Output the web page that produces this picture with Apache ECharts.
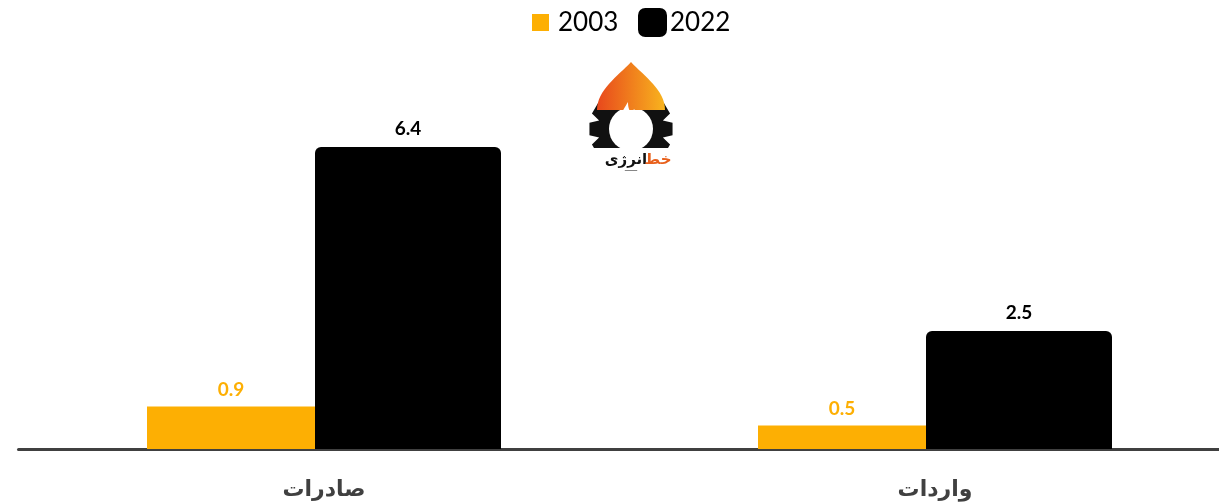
<!DOCTYPE html>
<html><head><meta charset="utf-8">
<script src="https://cdn.jsdelivr.net/npm/echarts@6/dist/echarts.min.js"></script>
<style>html,body{margin:0;padding:0;background:#fff}#c{width:1219px;height:503px}</style>
</head><body><div id="c"></div>
<script>
const categories = ['صادرات', 'واردات'];
const seriesNames = ['2003', '2022'];
const values2003 = [0.9, 0.5];
const values2022 = [6.4, 2.5];

const chart = echarts.init(document.getElementById('c'));

// logo watermark helpers (decoration only)
function gearPoints(cx, cy, rOut, rIn, teeth) {
  const pts = [];
  const step = Math.PI * 2 / teeth;
  for (let i = 0; i < teeth; i++) {
    const a = i * step - Math.PI / 2;
    pts.push([cx + rIn * Math.cos(a - step * 0.5), cy + rIn * Math.sin(a - step * 0.5)]);
    pts.push([cx + rOut * Math.cos(a - step * 0.28), cy + rOut * Math.sin(a - step * 0.28)]);
    pts.push([cx + rOut * Math.cos(a + step * 0.28), cy + rOut * Math.sin(a + step * 0.28)]);
    pts.push([cx + rIn * Math.cos(a + step * 0.5), cy + rIn * Math.sin(a + step * 0.5)]);
  }
  return pts;
}
function bez(segs) {
  const pts = [];
  segs.forEach(s => {
    for (let i = 0; i <= 16; i++) {
      const t = i / 16, u = 1 - t;
      pts.push([
        u*u*u*s[0][0] + 3*u*u*t*s[1][0] + 3*u*t*t*s[2][0] + t*t*t*s[3][0],
        u*u*u*s[0][1] + 3*u*u*t*s[1][1] + 3*u*t*t*s[2][1] + t*t*t*s[3][1]
      ]);
    }
  });
  return pts;
}
const domePts = bez([
  [[9,48],[9,28],[30,14],[43,0]],
  [[43,0],[56,14],[77,28],[77,48]]
]);
const innerFlamePts = bez([
  [[31,68],[28,58],[34,50],[40,40]],
  [[40,40],[40,50],[44,52],[46,47]],
  [[46,47],[52,54],[56,62],[54,70]],
  [[54,70],[50,77],[36,77],[31,68]]
]);

chart.setOption({
  animation: false,
  backgroundColor: '#ffffff',
  legend: [
    {
      data: [seriesNames[0]], left: 532, top: 8, padding: 0, itemWidth: 17, itemHeight: 17, icon: 'rect',
      textStyle: { fontSize: 26, lineHeight: 29, color: '#000', fontFamily: 'Lato', padding: [0, 0, 0, 4] }
    },
    {
      data: [seriesNames[1]], left: 638, top: 8, padding: 0, itemWidth: 29, itemHeight: 29, icon: 'roundRect',
      textStyle: { fontSize: 26, lineHeight: 29, color: '#000', fontFamily: 'Lato', padding: [0, 0, 0, -2] }
    }
  ],
  grid: { left: 18.5, width: 1222, top: 71.4, bottom: 54, containLabel: false, outerBoundsMode: 'none' },
  xAxis: {
    type: 'category', data: categories,
    axisLine: { show: true, lineStyle: { color: '#404040', width: 3 } },
    axisTick: { show: false },
    axisLabel: { margin: 30, fontSize: 22, fontWeight: 'bold', color: '#404040', fontFamily: 'DejaVu Sans' }
  },
  yAxis: { type: 'value', min: 0, max: 8, show: false, splitLine: { show: false } },
  series: [
    {
      name: seriesNames[0], type: 'bar', data: values2003, barWidth: 168, barGap: '0%',
      itemStyle: { color: '#FDAF03' },
      label: { show: true, position: 'top', distance: 7, fontSize: 19, fontWeight: 'bold', color: '#FDAF03', fontFamily: 'Lato' }
    },
    {
      name: seriesNames[1], type: 'bar', data: values2022, barWidth: 186, barGap: '0%',
      itemStyle: { color: '#000000', borderRadius: [6, 6, 0, 0] },
      label: { show: true, position: 'top', distance: 9, fontSize: 19, fontWeight: 'bold', color: '#000000', fontFamily: 'Lato' }
    }
  ],
  graphic: [
    {
      type: 'group', left: 588, top: 62, silent: true, z: 100,
      children: [
        { type: 'polygon', shape: { points: gearPoints(43, 67, 42, 33, 12) }, style: { fill: '#111' } },
        { type: 'circle', shape: { cx: 43, cy: 67, r: 22 }, style: { fill: '#fff' } },
        { type: 'polygon', shape: { points: domePts },
          style: { fill: { type: 'linear', x: 0, y: 0, x2: 1, y2: 0, colorStops: [{ offset: 0, color: '#E8481C' }, { offset: 1, color: '#F8B41E' }] } } },
        { type: 'polygon', shape: { points: innerFlamePts }, style: { fill: '#fff' } },
        { type: 'rect', shape: { x: 0, y: 86, width: 86, height: 22 }, style: { fill: '#fff' } },
        { type: 'text', x: 38, y: 98, style: { text: 'انرژی', fontSize: 15, fontWeight: 'bold', fill: '#111', fontFamily: 'DejaVu Sans', align: 'center', verticalAlign: 'middle' } },
        { type: 'text', x: 70, y: 98, style: { text: 'خط', fontSize: 15, fontWeight: 'bold', fill: '#E8601C', fontFamily: 'DejaVu Sans', align: 'center', verticalAlign: 'middle' } }
      ]
    }
  ]
});
</script>
</body></html>
